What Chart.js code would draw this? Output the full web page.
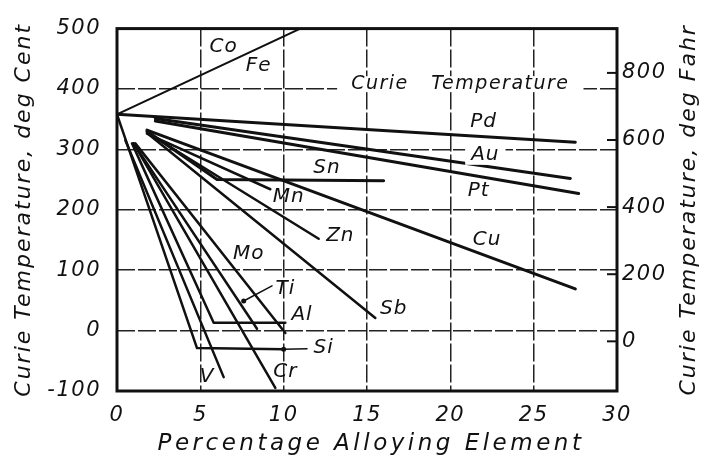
<!DOCTYPE html>
<html>
<head>
<meta charset="utf-8">
<script src="https://cdn.jsdelivr.net/npm/chart.js@4.4.1/dist/chart.umd.min.js"></script>
<style>
  html, body { margin: 0; padding: 0; background: #fff; }
  #wrap { width: 704px; height: 460px; }
</style>
</head>
<body>
<div id="wrap"><canvas id="curieChart"></canvas></div>
<script>
// Curie temperature of nickel vs. percentage of alloying element
const xTicks = [0, 5, 10, 15, 20, 25, 30];
const cTicks = [-100, 0, 100, 200, 300, 400, 500];
const fTicks = [0, 200, 400, 600, 800];

// [percent, deg C] points for each element
const feLine = [[0, 358], [11, 500]];
const pdLine = [[0, 358], [27.5, 312]];
const auLine = [[2.3, 351], [27.2, 252]];
const ptLine = [[2.3, 347], [27.7, 227]];
const snLine = [[1.8, 330], [6.0, 250], [16.0, 248]];
const mnLine = [[1.8, 326], [9.2, 234]];
const znLine = [[1.8, 328], [12.1, 152]];
const cuLine = [[1.8, 332], [27.5, 69]];
const sbLine = [[1.8, 327], [15.5, 21]];
const moLine = [[1.1, 310], [10.1, -4]];
const tiLine = [[1.0, 310], [8.4, 3]];
const alLine = [[0.9, 310], [5.8, 13], [10.1, 13]];
const crLine = [[1.0, 310], [9.5, -95]];
const vLine = [[0.5, 315], [6.4, -77]];
const siLine = [[0, 358], [4.8, -29], [10.0, -31]];
const tiLeader = [[9.3, 74], [7.6, 49]];
const siLeader = [[10.0, -31], [11.4, -30]];

// element names and where they sit (percent, deg C)
const labels = [
    ['Co', 6.4, 470], ['Fe', 8.5, 438], ['Pd', 22.0, 346], ['Au', 22.1, 291],
    ['Pt', 21.7, 232], ['Sn', 12.6, 270], ['Mn', 10.3, 221], ['Zn', 13.4, 157],
    ['Cu', 22.2, 150], ['Sb', 16.6, 36], ['Mo', 7.9, 127], ['Ti', 10.1, 69],
    ['Al', 11.1, 26], ['Si', 12.4, -29], ['V', 5.4, -77], ['Cr', 10.1, -69]
];

const toF = c => c * 9 / 5 + 32;

const line = (pts, w) => ({
    data: pts.map(p => ({ x: p[0], y: p[1] })),
    borderColor: '#111',
    borderWidth: w,
    pointRadius: 0,
    fill: false,
    tension: 0,
    borderCapStyle: 'round',
    borderJoinStyle: 'round'
});

const tickFont = { family: "'DejaVu Sans'", style: 'italic', size: 21 };

const annotate = {
    id: 'annotate',
    beforeDraw(chart) {
        chart.ctx.letterSpacing = '1.5px';
    },
    afterDatasetsDraw(chart) {
        const { ctx, chartArea: a, scales } = chart;
        ctx.save();

        // "Curie Temperature" sits on the 400 line, with the line broken round it
        ctx.font = "italic 19px 'DejaVu Sans'";
        ctx.letterSpacing = '1.5px';
        ctx.textAlign = 'center';
        ctx.textBaseline = 'middle';
        const cx = scales.x.getPixelForValue(20.6), cy = scales.y.getPixelForValue(408);
        const txt = 'Curie   Temperature';
        const tw = ctx.measureText(txt).width;
        ctx.fillStyle = '#fff';
        ctx.fillRect(cx - tw / 2 - 14, cy - 8, tw + 28, 16);
        ctx.fillStyle = '#111';
        ctx.fillText(txt, cx, cy);

        ctx.font = "italic 20px 'DejaVu Sans'";
        ctx.letterSpacing = '1px';
        labels.forEach(([name, x, y]) => {
            const px = scales.x.getPixelForValue(x), py = scales.y.getPixelForValue(y);
            if (name === 'Au') {
                const w = ctx.measureText(name).width;
                ctx.fillStyle = '#fff';
                ctx.fillRect(px - w / 2 - 6, py - 10, w + 12, 20);
            }
            ctx.fillStyle = '#111';
            ctx.fillText(name, px, py);
        });

        // frame
        ctx.strokeStyle = '#111';
        ctx.lineWidth = 3;
        ctx.strokeRect(a.left, a.top, a.right - a.left, a.bottom - a.top);

        // short inward ticks for the Fahrenheit scale
        ctx.lineWidth = 2;
        fTicks.forEach(f => {
            const y = scales.yF.getPixelForValue(f);
            ctx.beginPath();
            ctx.moveTo(a.right - 10, y);
            ctx.lineTo(a.right, y);
            ctx.stroke();
        });
        ctx.restore();
    },
    afterDraw(chart) {
        const { ctx, chartArea: a } = chart;
        ctx.save();
        ctx.fillStyle = '#111';
        ctx.textAlign = 'center';
        ctx.textBaseline = 'middle';

        ctx.font = "italic 23px 'DejaVu Sans'";
        ctx.letterSpacing = '3.5px';
        ctx.fillText('Percentage Alloying Element', (a.left + a.right) / 2 + 4, 444);

        ctx.font = "italic 22px 'DejaVu Sans'";
        ctx.letterSpacing = '2px';
        const midY = (a.top + a.bottom) / 2;
        [[24, 'Curie Temperature, deg Cent'], [689, 'Curie Temperature, deg Fahr']].forEach(([x, t]) => {
            ctx.save();
            ctx.translate(x, midY);
            ctx.rotate(-Math.PI / 2);
            ctx.fillText(t, 0, 0);
            ctx.restore();
        });
        ctx.restore();
    }
};

const ctx = document.getElementById('curieChart');
new Chart(ctx, {
    type: 'line',
    data: {
        datasets: [
            line(feLine, 2), line(pdLine, 3), line(auLine, 3), line(ptLine, 3),
            line(snLine, 3), line(mnLine, 2.5), line(znLine, 2.5), line(cuLine, 3),
            line(sbLine, 2.5), line(moLine, 2.5), line(tiLine, 2.5), line(alLine, 2.5),
            line(crLine, 2.5), line(vLine, 2.5), line(siLine, 2.5),
            { ...line(tiLeader, 1.5), pointRadius: [0, 2.5], pointBackgroundColor: '#111', pointBorderWidth: 0 },
            { ...line(siLeader, 1.5), pointRadius: [2.5, 0], pointBackgroundColor: '#111', pointBorderWidth: 0 }
        ]
    },
    options: {
        responsive: true,
        maintainAspectRatio: false,
        animation: false,
        devicePixelRatio: 1,
        layout: { padding: { top: 24 } },
        plugins: {
            legend: { display: false },
            tooltip: { enabled: false }
        },
        scales: {
            x: {
                type: 'linear',
                min: 0,
                max: 30,
                afterBuildTicks: s => { s.ticks = xTicks.map(v => ({ value: v })); },
                afterFit: s => { s.height = 69; },
                ticks: { font: tickFont, color: '#111', padding: 12, maxRotation: 0 },
                grid: {
                    color: c => (c.tick.value === 0 || c.tick.value === 30) ? 'rgba(0,0,0,0)' : '#222',
                    lineWidth: 1.5,
                    drawTicks: false
                },
                border: { display: false, dash: [18, 3] }
            },
            y: {
                type: 'linear',
                position: 'left',
                min: -100,
                max: 500,
                afterBuildTicks: s => { s.ticks = cTicks.map(v => ({ value: v })); },
                afterFit: s => { s.width = 117; },
                ticks: { font: tickFont, color: '#111', padding: 16 },
                grid: {
                    color: c => (c.tick.value === -100 || c.tick.value === 500) ? 'rgba(0,0,0,0)' : '#222',
                    lineWidth: 1.5,
                    drawTicks: false
                },
                border: { display: false, dash: [18, 3] }
            },
            yF: {
                type: 'linear',
                position: 'right',
                min: toF(-100),
                max: toF(500),
                afterBuildTicks: s => { s.ticks = fTicks.map(v => ({ value: v })); },
                afterFit: s => { s.width = 87; },
                ticks: { font: tickFont, color: '#111', padding: 5 },
                grid: { display: false, drawTicks: false },
                border: { display: false }
            }
        }
    },
    plugins: [annotate]
});
</script>
</body>
</html>
